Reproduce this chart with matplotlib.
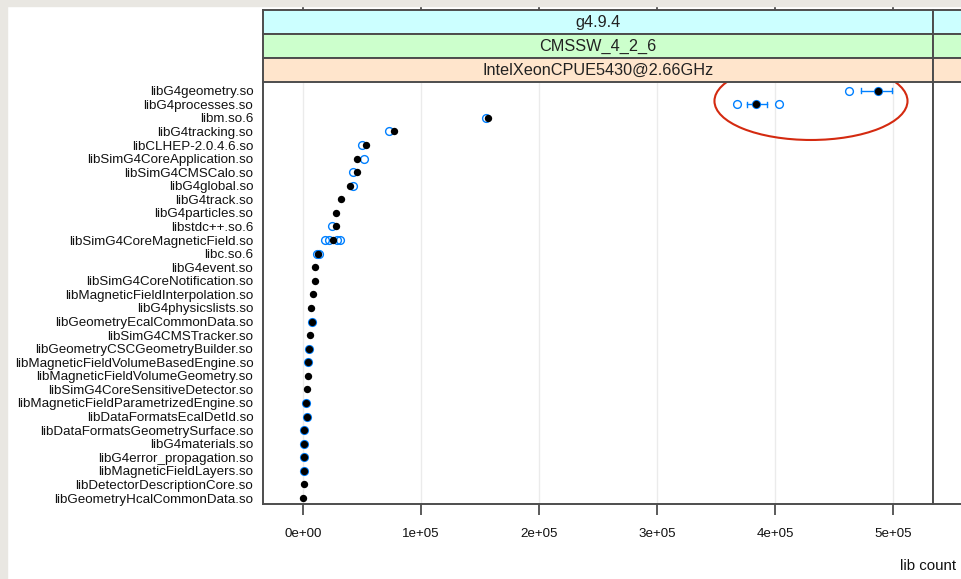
import matplotlib
matplotlib.use("Agg")
import matplotlib.pyplot as plt
from matplotlib.patches import Rectangle, Ellipse
from matplotlib import font_manager
import numpy as np

# ---------------- data ----------------
libs = [
    "libG4geometry.so", "libG4processes.so", "libm.so.6", "libG4tracking.so",
    "libCLHEP-2.0.4.6.so", "libSimG4CoreApplication.so", "libSimG4CMSCalo.so",
    "libG4global.so", "libG4track.so", "libG4particles.so", "libstdc++.so.6",
    "libSimG4CoreMagneticField.so", "libc.so.6", "libG4event.so",
    "libSimG4CoreNotification.so", "libMagneticFieldInterpolation.so",
    "libG4physicslists.so", "libGeometryEcalCommonData.so", "libSimG4CMSTracker.so",
    "libGeometryCSCGeometryBuilder.so", "libMagneticFieldVolumeBasedEngine.so",
    "libMagneticFieldVolumeGeometry.so", "libSimG4CoreSensitiveDetector.so",
    "libMagneticFieldParametrizedEngine.so", "libDataFormatsEcalDetId.so",
    "libDataFormatsGeometrySurface.so", "libG4materials.so",
    "libG4error_propagation.so", "libMagneticFieldLayers.so",
    "libDetectorDescriptionCore.so", "libGeometryHcalCommonData.so",
]
median_count = [
    487000, 384000, 156800, 77100, 53100, 45500, 46000, 40100, 32500, 27700,
    27700, 25400, 12700, 10000, 10000, 8800, 6800, 7500, 5900, 5500,
    4000, 4500, 3600, 2500, 3000, 1200, 1100, 1000, 1000, 1000, 300,
]
run_counts = [
    [463000, 487000], [367500, 403000, 384000], [155000], [72600], [50300],
    [51400], [42400], [42000], [], [], [24600], [19000, 22000, 29000, 31000],
    [11500, 13500], [], [], [], [], [7500], [], [5500], [4000], [], [],
    [2500], [3000], [1200], [1100], [1000], [1000], [], [],
]
err_rows = [0, 1]
err_low = [473000, 376000]
err_high = [499000, 393000]

strip_labels = ["g4.9.4", "CMSSW_4_2_6", "IntelXeonCPUE5430@2.66GHz"]
strip_colors = ["#ccffff", "#ccffcc", "#ffe5cc"]
xticks = [0, 100000, 200000, 300000, 400000, 500000]
xticklabels = ["0e+00", "1e+05", "2e+05", "3e+05", "4e+05", "5e+05"]
xlabel = "lib count"

# highlight ellipse (data coords: x centre, row centre, width, height in rows)
hl_x, hl_row, hl_w, hl_h = 430500, 0.76, 163600, 5.74

# ---------------- fonts ----------------
names = {f.name for f in font_manager.fontManager.ttflist}
narrow = "Liberation Sans Narrow" if "Liberation Sans Narrow" in names else "Liberation Sans"
fs = 11.8 if narrow == "Liberation Sans Narrow" else 9.6
plt.rcParams["font.family"] = [narrow, "DejaVu Sans"]

W, H = 961, 579
fig = plt.figure(figsize=(W / 100, H / 100), dpi=100)
fig.patch.set_facecolor("white")


def fbox(x0, y0, x1, y1):
    return [x0 / W, 1 - y1 / H, (x1 - x0) / W, (y1 - y0) / H]


PL, PR, PT, PB = 263, 933, 82, 504
xlim = (-33900, 533900)
n = len(libs)
ylim = (30.44, -0.64)
edge = "#4d4d4d"

ax = fig.add_axes(fbox(PL, PT, PR, PB))
ax.set_xlim(*xlim)
ax.set_ylim(*ylim)
for t in xticks:
    ax.axvline(t, color="#ebebeb", lw=1.0, zorder=0)
rows = np.arange(n)
for r, vals in enumerate(run_counts):
    if vals:
        ax.plot(vals, [r] * len(vals), "o", ms=5.6, mfc="none", mec="#0080ff", mew=1.0, zorder=2)
for r, lo, hi in zip(err_rows, err_low, err_high):
    ax.plot([lo, hi], [r, r], color="#0080ff", lw=1.0, zorder=2)
    ax.plot([lo, lo], [r - 0.18, r + 0.18], color="#0080ff", lw=1.0, zorder=2)
    ax.plot([hi, hi], [r - 0.18, r + 0.18], color="#0080ff", lw=1.0, zorder=2)
ax.plot(median_count, rows, "o", ms=5.3, color="black", mew=0, zorder=3)
ax.set_yticks(rows)
ax.set_yticklabels(libs, fontsize=fs, color="#111111")
ax.tick_params(axis="y", length=0, pad=7)
ax.set_xticks(xticks)
ax.set_xticklabels(xticklabels, fontsize=fs, color="#111111")
ax.tick_params(axis="x", length=8, width=1.3, color=edge, pad=9)
for s in ax.spines.values():
    s.set_color(edge)
    s.set_linewidth(1.4)
ax.spines["top"].set_visible(False)
ax.add_patch(Ellipse((hl_x, hl_row), hl_w, hl_h, fill=False, ec="#d42a10", lw=1.5,
                     zorder=6, clip_on=False))

# second (cut-off) panel
ax2 = fig.add_axes(fbox(PR, PT, PR + (PR - PL), PB))
ax2.set_xlim(*xlim)
ax2.set_ylim(*ylim)
ax2.set_xticks([])
ax2.set_yticks([])
for s in ax2.spines.values():
    s.set_color(edge)
    s.set_linewidth(1.4)
ax2.spines["top"].set_visible(False)

# strips
for px0, px1, main in [(PL, PR, True), (PR, PR + (PR - PL), False)]:
    for i, (lab, col) in enumerate(zip(strip_labels, strip_colors)):
        y0 = 10 + 24 * i
        sa = fig.add_axes(fbox(px0, y0, px1, y0 + 24))
        sa.set_facecolor(col)
        sa.set_xlim(*xlim)
        sa.set_yticks([])
        for s in sa.spines.values():
            s.set_color(edge)
            s.set_linewidth(1.4)
        if main and i == 0:
            sa.xaxis.tick_top()
            sa.set_xticks(xticks)
            sa.set_xticklabels([])
            sa.tick_params(axis="x", length=8, width=1.3, color=edge)
        else:
            sa.set_xticks([])
        if main:
            sa.text(0.5, 0.47, lab, transform=sa.transAxes, ha="center", va="center",
                    fontsize=fs * 1.22, color="#222222")

fig.text(900 / W, 1 - 566 / H, xlabel, ha="left", va="center", fontsize=fs * 1.13, color="#111111")

# screenshot frame
fig.add_artist(Rectangle((0, 0), 7 / W, 1, transform=fig.transFigure, color="#e9e7e2", zorder=20))
fig.add_artist(Rectangle((0, 1 - 6 / H), 1, 6 / H, transform=fig.transFigure, color="#e9e7e2", zorder=20))

fig.savefig("out.png", dpi=100)
